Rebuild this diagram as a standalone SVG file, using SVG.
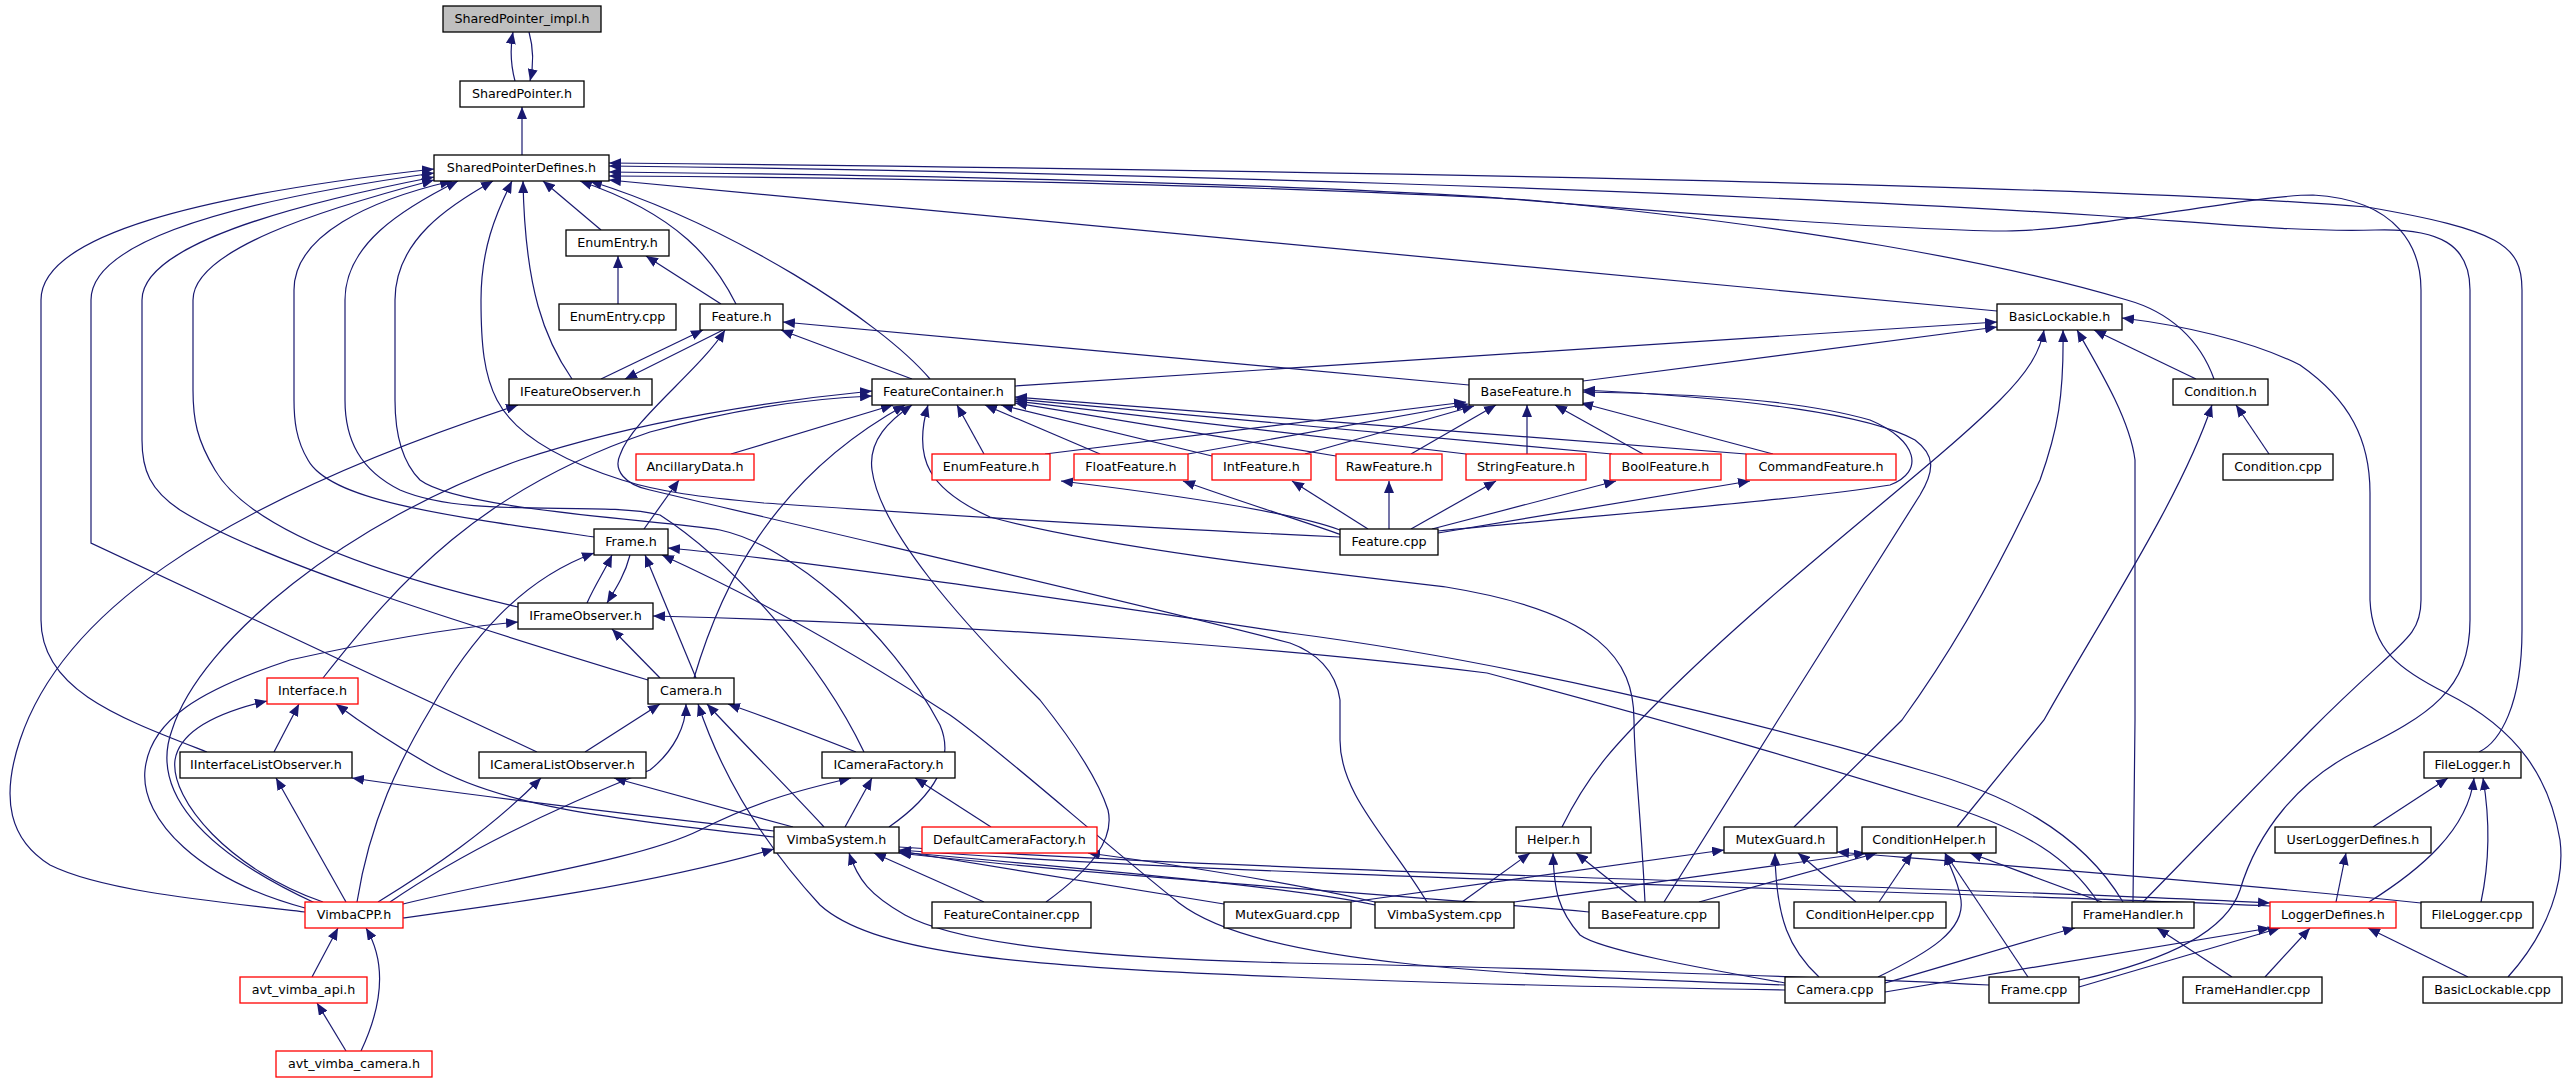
<svg xmlns="http://www.w3.org/2000/svg" width="2569" height="1083" viewBox="0 0 2569 1083">
<defs>
<marker id="arr" markerUnits="userSpaceOnUse" markerWidth="12" markerHeight="10" refX="12" refY="5" orient="auto"><path d="M0,0 L12,5 L0,10 z" fill="#191970"/></marker>
<style>
.node rect{fill:#fff;stroke:#000;stroke-width:1.3}
.red rect{stroke:#ff0000}
.gray rect{fill:#bfbfbf}
text{font-family:"DejaVu Sans",sans-serif;font-size:12.7px;text-anchor:middle;fill:#000}
#edges path{fill:none;stroke:#191970;stroke-width:1.2;marker-end:url(#arr)}
</style>
</defs>
<rect width="2569" height="1083" fill="#fff"/>
<g id="edges">
<path d="M515,81 C510,62 510,48 513,32"/>
<path d="M529,32 C534,50 534,64 530,81"/>
<path d="M522,155 L522,107"/>
<path d="M207,752 C120,718 41,690 41,620 L41,300 C41,235 200,195 434,169"/>
<path d="M537,752 L91,543 L91,300 C91,240 240,200 434,173"/>
<path d="M648,680 C450,620 260,560 180,510 C150,490 142,470 142,440 L142,300 C142,245 290,205 434,177"/>
<path d="M518,607 C380,575 250,530 215,470 C197,440 193,420 193,390 L193,300 C193,250 320,210 434,180"/>
<path d="M594,537 C440,515 330,500 308,460 C296,440 294,420 294,400 L294,290 C294,235 370,200 452,181"/>
<path d="M864,752 C820,660 730,560 660,515 C600,500 470,520 400,490 C360,470 345,440 345,400 L345,300 C345,245 400,210 458,181"/>
<path d="M889,827 C935,795 955,760 940,725 C890,630 790,545 720,530 C660,520 460,510 420,480 C400,460 395,430 395,400 L395,300 C395,240 450,205 493,181"/>
<path d="M1340,537 C1100,526 900,512 764,503 C700,497 660,492 622,480 C560,460 515,435 497,400 C484,375 481,345 481,300 C481,250 495,215 512,181"/>
<path d="M572,379 C545,340 525,290 523,181"/>
<path d="M601,230 L543,181"/>
<path d="M736,304 C715,262 680,215 580,181"/>
<path d="M930,379 C880,320 730,225 590,181"/>
<path d="M1997,311 L609,180"/>
<path d="M2479,752 C2500,742 2522,705 2522,630 L2522,290 C2522,245 2500,230 2367,207 C2100,185 1300,170 609,163"/>
<path d="M2079,980 C2160,962 2225,935 2240,890 C2258,830 2300,780 2355,752 C2430,715 2470,690 2470,620 L2470,290 C2470,245 2440,228 2375,230 C2300,232 2220,224 2106,216 C1700,190 1100,172 609,166"/>
<path d="M2143,902 L2311,730 C2400,640 2421,640 2421,600 L2421,290 C2421,250 2400,200 2313,195 C2250,195 2080,232 2003,231 C1900,230 1700,215 1487,197 C1200,180 800,174 609,172"/>
<path d="M2214,379 C2200,340 2170,312 2127,300 C2000,262 1800,226 1529,200 C1200,182 800,177 609,176"/>
<path d="M618,304 L618,256"/>
<path d="M721,304 L646,256"/>
<path d="M601,379 L703,330"/>
<path d="M723,330 L625,379"/>
<path d="M912,379 L781,330"/>
<path d="M1469,385 L783,322"/>
<path d="M1427,902 C1390,840 1340,795 1340,740 L1340,700 C1336,670 1315,652 1290,643 C1137,603 889,547 650,490 C625,485 613,470 620,455 C632,420 700,370 725,330"/>
<path d="M323,678 C400,580 480,490 650,432 C750,405 820,398 872,396"/>
<path d="M315,903 C200,850 150,790 172,730 C200,640 350,520 520,460 C640,420 780,400 872,391"/>
<path d="M731,454 L893,405"/>
<path d="M694,678 C720,590 770,480 905,405"/>
<path d="M1046,902 C1090,870 1115,840 1108,810 C1095,770 1060,725 1040,700 C960,620 880,530 872,470 C868,440 890,420 912,405"/>
<path d="M1645,902 C1640,800 1634,760 1634,720 C1634,660 1600,612 1446,587 C1300,570 1100,547 990,517 C930,490 912,460 928,405"/>
<path d="M984,454 L957,405"/>
<path d="M1100,454 L985,405"/>
<path d="M1212,456 L1001,405"/>
<path d="M1336,456 L1015,403"/>
<path d="M1466,454 L1015,401"/>
<path d="M1612,454 L1015,399"/>
<path d="M1746,454 L1015,397"/>
<path d="M1015,386 L1997,322"/>
<path d="M1583,381 L1997,327"/>
<path d="M1562,827 C1590,770 1620,740 1660,700 C1780,580 1930,470 2000,400 C2028,372 2040,352 2044,330"/>
<path d="M1794,827 L1902,720 C1960,640 2003,560 2040,480 C2058,430 2064,395 2063,330"/>
<path d="M2133,902 L2135,720 L2135,460 C2130,420 2100,370 2077,330"/>
<path d="M2196,379 L2094,330"/>
<path d="M2508,977 C2550,930 2565,880 2560,840 C2550,780 2520,730 2446,693 C2400,670 2372,650 2370,600 L2370,493 C2370,440 2350,400 2300,365 C2250,340 2180,325 2122,318"/>
<path d="M1045,454 L1466,402"/>
<path d="M1188,454 L1468,404"/>
<path d="M1305,454 L1474,406"/>
<path d="M1411,454 L1496,405"/>
<path d="M1527,454 L1527,405"/>
<path d="M1643,454 L1555,405"/>
<path d="M1773,454 L1581,403"/>
<path d="M1340,530 C1300,515 1200,498 1061,481"/>
<path d="M1342,535 C1300,520 1250,505 1183,481"/>
<path d="M1368,529 L1292,481"/>
<path d="M1389,529 L1389,481"/>
<path d="M1411,529 L1496,481"/>
<path d="M1432,529 L1616,481"/>
<path d="M1438,533 L1750,481"/>
<path d="M1438,531 C1600,515 1800,500 1890,485 C1925,472 1918,440 1870,420 C1800,400 1700,394 1583,392"/>
<path d="M1664,902 L1778,720 L1920,495 C1935,470 1935,455 1915,440 C1870,415 1750,398 1583,390"/>
<path d="M2269,454 L2236,405"/>
<path d="M1957,827 L2044,720 C2100,620 2180,500 2212,405"/>
<path d="M2123,902 C2080,830 2003,793 1920,770 C1750,720 1500,660 1290,633 C1000,590 800,560 668,548"/>
<path d="M2098,902 C2070,860 2030,830 1930,800 C1800,760 1700,730 1487,673 C1300,650 1000,625 653,616"/>
<path d="M1785,985 C1500,975 1260,965 1179,903 C1100,840 1000,750 950,715 C850,650 750,595 662,555"/>
<path d="M1989,985 C1800,975 1400,965 1290,963 C1100,958 960,945 905,915 C870,895 858,880 849,853"/>
<path d="M1785,990 C1600,987 1400,982 1290,977 C1000,967 870,950 820,905 C760,840 720,770 698,704"/>
<path d="M1462,902 L1530,853"/>
<path d="M1637,902 L1576,853"/>
<path d="M1785,983 C1700,968 1600,950 1580,935 C1558,910 1554,890 1553,853"/>
<path d="M1351,902 L1724,850"/>
<path d="M2421,903 C2200,880 2000,865 1837,852"/>
<path d="M1856,902 L1798,853"/>
<path d="M1819,977 C1790,950 1776,920 1775,853"/>
<path d="M1514,902 L1866,853"/>
<path d="M1699,902 L1877,853"/>
<path d="M1879,902 L1912,853"/>
<path d="M1878,977 C1930,952 1965,930 1961,900 C1958,880 1950,868 1945,853"/>
<path d="M2028,977 L1945,853"/>
<path d="M2102,902 L1970,853"/>
<path d="M1885,983 C1950,965 2010,945 2075,928"/>
<path d="M2232,977 L2157,928"/>
<path d="M1885,992 L2270,928"/>
<path d="M2079,987 L2280,928"/>
<path d="M2265,977 L2310,928"/>
<path d="M2468,977 L2368,928"/>
<path d="M2270,906 C1900,889 1300,880 899,850"/>
<path d="M899,847 C1300,874 1900,884 2270,903"/>
<path d="M1224,904 L899,851"/>
<path d="M1375,905 C1300,888 1100,870 899,852"/>
<path d="M1589,912 C1400,895 1100,876 899,853"/>
<path d="M1375,902 C1300,885 1200,868 1088,853"/>
<path d="M984,902 L874,853"/>
<path d="M845,827 L872,778"/>
<path d="M824,827 C790,790 740,740 707,704"/>
<path d="M793,827 L614,778"/>
<path d="M774,831 C700,822 500,800 352,778"/>
<path d="M774,837 C600,818 500,805 430,765 C395,745 360,722 336,704"/>
<path d="M403,918 C500,905 650,885 774,849"/>
<path d="M305,912 C200,900 100,890 50,865 C10,840 0,800 20,740 C60,620 200,510 518,405"/>
<path d="M346,902 L276,778"/>
<path d="M378,902 C430,870 490,830 541,778"/>
<path d="M323,902 C230,870 170,800 175,760 C180,730 220,712 267,701"/>
<path d="M305,908 C200,880 140,820 145,770 C150,720 200,690 290,660 C380,640 450,628 518,622"/>
<path d="M357,902 C370,820 400,760 430,710 C470,640 520,580 594,553"/>
<path d="M390,902 C480,840 600,790 650,770 C675,750 686,725 686,704"/>
<path d="M403,904 C500,880 640,860 700,830 C760,800 800,790 851,778"/>
<path d="M312,977 L338,928"/>
<path d="M361,1051 C385,1000 385,960 366,928"/>
<path d="M346,1051 L317,1003"/>
<path d="M274,752 L299,704"/>
<path d="M585,752 L660,704"/>
<path d="M856,752 C800,730 760,715 728,704"/>
<path d="M660,678 L612,629"/>
<path d="M696,678 L645,555"/>
<path d="M587,603 C595,585 605,570 612,555"/>
<path d="M630,555 C625,575 615,590 607,603"/>
<path d="M644,529 L679,480"/>
<path d="M991,827 L915,778"/>
<path d="M2336,902 L2346,853"/>
<path d="M2373,827 L2448,778"/>
<path d="M2369,902 C2420,870 2468,830 2474,778"/>
<path d="M2481,902 C2490,860 2490,820 2483,778"/>
</g>
<g id="n_impl" class="node gray"><rect x="443" y="6" width="158" height="26"/><text x="522" y="23">SharedPointer_impl.h</text></g>
<g id="n_sp" class="node"><rect x="460" y="81" width="124" height="26"/><text x="522" y="98">SharedPointer.h</text></g>
<g id="n_spd" class="node"><rect x="434" y="155" width="175" height="26"/><text x="521.5" y="172">SharedPointerDefines.h</text></g>
<g id="n_ee" class="node"><rect x="566" y="230" width="103" height="26"/><text x="617.5" y="247">EnumEntry.h</text></g>
<g id="n_eecpp" class="node"><rect x="559" y="304" width="117" height="26"/><text x="617.5" y="321">EnumEntry.cpp</text></g>
<g id="n_feat" class="node"><rect x="700" y="304" width="83" height="26"/><text x="741.5" y="321">Feature.h</text></g>
<g id="n_bl" class="node"><rect x="1997" y="304" width="125" height="26"/><text x="2059.5" y="321">BasicLockable.h</text></g>
<g id="n_ifo" class="node"><rect x="509" y="379" width="143" height="26"/><text x="580.5" y="396">IFeatureObserver.h</text></g>
<g id="n_fc" class="node"><rect x="872" y="379" width="143" height="26"/><text x="943.5" y="396">FeatureContainer.h</text></g>
<g id="n_bf" class="node"><rect x="1469" y="379" width="114" height="26"/><text x="1526" y="396">BaseFeature.h</text></g>
<g id="n_cond" class="node"><rect x="2173" y="379" width="95" height="26"/><text x="2220.5" y="396">Condition.h</text></g>
<g id="n_anc" class="node red"><rect x="636" y="454" width="118" height="26"/><text x="695" y="471">AncillaryData.h</text></g>
<g id="n_enf" class="node red"><rect x="932" y="454" width="118" height="26"/><text x="991" y="471">EnumFeature.h</text></g>
<g id="n_flf" class="node red"><rect x="1074" y="454" width="114" height="26"/><text x="1131" y="471">FloatFeature.h</text></g>
<g id="n_inf" class="node red"><rect x="1212" y="454" width="99" height="26"/><text x="1261.5" y="471">IntFeature.h</text></g>
<g id="n_raw" class="node red"><rect x="1336" y="454" width="106" height="26"/><text x="1389" y="471">RawFeature.h</text></g>
<g id="n_str" class="node red"><rect x="1466" y="454" width="120" height="26"/><text x="1526" y="471">StringFeature.h</text></g>
<g id="n_bool" class="node red"><rect x="1610" y="454" width="111" height="26"/><text x="1665.5" y="471">BoolFeature.h</text></g>
<g id="n_cmd" class="node red"><rect x="1746" y="454" width="150" height="26"/><text x="1821" y="471">CommandFeature.h</text></g>
<g id="n_condcpp" class="node"><rect x="2223" y="454" width="110" height="26"/><text x="2278" y="471">Condition.cpp</text></g>
<g id="n_frame" class="node"><rect x="594" y="529" width="74" height="26"/><text x="631" y="546">Frame.h</text></g>
<g id="n_featcpp" class="node"><rect x="1340" y="529" width="98" height="26"/><text x="1389" y="546">Feature.cpp</text></g>
<g id="n_ifro" class="node"><rect x="518" y="603" width="135" height="26"/><text x="585.5" y="620">IFrameObserver.h</text></g>
<g id="n_intf" class="node red"><rect x="267" y="678" width="91" height="26"/><text x="312.5" y="695">Interface.h</text></g>
<g id="n_cam" class="node"><rect x="648" y="678" width="86" height="26"/><text x="691" y="695">Camera.h</text></g>
<g id="n_iilo" class="node"><rect x="180" y="752" width="172" height="26"/><text x="266" y="769">IInterfaceListObserver.h</text></g>
<g id="n_iclo" class="node"><rect x="479" y="752" width="167" height="26"/><text x="562.5" y="769">ICameraListObserver.h</text></g>
<g id="n_icf" class="node"><rect x="822" y="752" width="133" height="26"/><text x="888.5" y="769">ICameraFactory.h</text></g>
<g id="n_fl" class="node"><rect x="2424" y="752" width="97" height="26"/><text x="2472.5" y="769">FileLogger.h</text></g>
<g id="n_vs" class="node"><rect x="774" y="827" width="125" height="26"/><text x="836.5" y="844">VimbaSystem.h</text></g>
<g id="n_dcf" class="node red"><rect x="922" y="827" width="175" height="26"/><text x="1009.5" y="844">DefaultCameraFactory.h</text></g>
<g id="n_help" class="node"><rect x="1516" y="827" width="75" height="26"/><text x="1553.5" y="844">Helper.h</text></g>
<g id="n_mg" class="node"><rect x="1724" y="827" width="113" height="26"/><text x="1780.5" y="844">MutexGuard.h</text></g>
<g id="n_ch" class="node"><rect x="1862" y="827" width="134" height="26"/><text x="1929" y="844">ConditionHelper.h</text></g>
<g id="n_uld" class="node"><rect x="2275" y="827" width="156" height="26"/><text x="2353" y="844">UserLoggerDefines.h</text></g>
<g id="n_vcpp" class="node red"><rect x="305" y="902" width="98" height="26"/><text x="354" y="919">VimbaCPP.h</text></g>
<g id="n_fccpp" class="node"><rect x="932" y="902" width="159" height="26"/><text x="1011.5" y="919">FeatureContainer.cpp</text></g>
<g id="n_mgcpp" class="node"><rect x="1224" y="902" width="127" height="26"/><text x="1287.5" y="919">MutexGuard.cpp</text></g>
<g id="n_vscpp" class="node"><rect x="1375" y="902" width="139" height="26"/><text x="1444.5" y="919">VimbaSystem.cpp</text></g>
<g id="n_bfcpp" class="node"><rect x="1589" y="902" width="130" height="26"/><text x="1654" y="919">BaseFeature.cpp</text></g>
<g id="n_chcpp" class="node"><rect x="1794" y="902" width="152" height="26"/><text x="1870" y="919">ConditionHelper.cpp</text></g>
<g id="n_fh" class="node"><rect x="2072" y="902" width="122" height="26"/><text x="2133" y="919">FrameHandler.h</text></g>
<g id="n_ld" class="node red"><rect x="2270" y="902" width="126" height="26"/><text x="2333" y="919">LoggerDefines.h</text></g>
<g id="n_flcpp" class="node"><rect x="2421" y="902" width="112" height="26"/><text x="2477" y="919">FileLogger.cpp</text></g>
<g id="n_api" class="node red"><rect x="240" y="977" width="127" height="26"/><text x="303.5" y="994">avt_vimba_api.h</text></g>
<g id="n_camcpp" class="node"><rect x="1785" y="977" width="100" height="26"/><text x="1835" y="994">Camera.cpp</text></g>
<g id="n_framecpp" class="node"><rect x="1989" y="977" width="90" height="26"/><text x="2034" y="994">Frame.cpp</text></g>
<g id="n_fhcpp" class="node"><rect x="2183" y="977" width="139" height="26"/><text x="2252.5" y="994">FrameHandler.cpp</text></g>
<g id="n_blcpp" class="node"><rect x="2423" y="977" width="139" height="26"/><text x="2492.5" y="994">BasicLockable.cpp</text></g>
<g id="n_avtcam" class="node red"><rect x="276" y="1051" width="156" height="26"/><text x="354" y="1068">avt_vimba_camera.h</text></g>
</svg>
